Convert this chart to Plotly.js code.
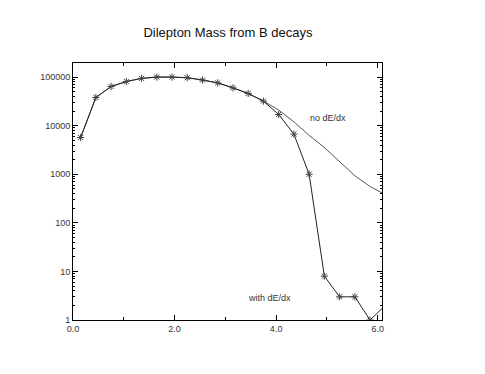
<!DOCTYPE html>
<html>
<head>
<meta charset="utf-8">
<script src="https://cdn.plot.ly/plotly-3.0.1.min.js"></script>
<style>
  html, body { margin: 0; padding: 0; background: #fff; }
  #chart { width: 485px; height: 374px; }
</style>
</head>
<body>
<div id="chart"></div>
<script>
// dilepton mass bins (GeV)
const masa = [0.15, 0.45, 0.75, 1.05, 1.35, 1.65, 1.95, 2.25, 2.55, 2.85, 3.15,
              3.45, 3.75, 4.05, 4.35, 4.65, 4.95, 5.25, 5.55, 5.85, 6.15];

// con perdida de energia (asteriscos)
const withDEdx = [5700, 38000, 64000, 81000, 94000, 100000, 100000, 97000, 87000, 76000, 60000,
                  46000, 32000, 17000, 6700, 1000, 8, 3, 3, 1, 2];

// sin perdida de energia (linea fina)
const noDEdx = [5700, 38000, 64000, 81000, 94000, 100000, 100000, 97000, 87000, 76000, 60000,
                46000, 32000, 21000, 12000, 6300, 3550, 1780, 930, 560, 380];

const xTicks = [0, 2, 4, 6];
const xTickText = ["0.0", "2.0", "4.0", "6.0"];

const fuente = "Liberation Sans, Arial, sans-serif";

const traces = [
  {
    type: "scatter", mode: "lines",
    x: masa, y: noDEdx,
    line: { color: "#555", width: 1 },
    showlegend: false,
    hoverinfo: "skip",
  },
  {
    type: "scatter", mode: "lines+markers",
    x: masa, y: withDEdx,
    line: { color: "#222", width: 1 },
    marker: { symbol: "asterisk-open", size: 6, color: "#444", line: { color: "#444", width: 1 } },
    showlegend: false,
  },
];

const layout = {
  width: 485, height: 374,
  paper_bgcolor: "#fff", plot_bgcolor: "#fff",
  margin: { l: 73, r: 103, t: 63, b: 54 },
  font: { family: fuente, size: 9, color: "#333" },
  title: {
    text: "Dilepton Mass from B decays",
    font: { family: fuente, size: 13, color: "#111" },
    x: 0.47, xanchor: "center", y: 0.912, yanchor: "middle",
  },
  xaxis: {
    range: [0, 6.085],
    tickvals: xTicks, ticktext: xTickText,
    ticks: "inside", ticklen: 5, tickcolor: "#000",
    minor: { dtick: 1, tick0: 0, ticks: "inside", ticklen: 3, tickcolor: "#000" },
    showline: true, linecolor: "#000", linewidth: 1, mirror: "ticks",
    showgrid: false, zeroline: false,
  },
  yaxis: {
    type: "log",
    range: [0, 5.29],
    dtick: 1, tickformat: "d",
    ticks: "inside", ticklen: 5, tickcolor: "#000",
    minor: { dtick: "D1", ticks: "inside", ticklen: 2, tickcolor: "#000" },
    showline: true, linecolor: "#000", linewidth: 1, mirror: "ticks",
    showgrid: false, zeroline: false,
  },
  annotations: [
    { x: 5.02, y: 4.16, xref: "x", yref: "y", text: "no dE/dx", showarrow: false,
      font: { family: fuente, size: 9, color: "#333" } },
    { x: 3.86, y: 0.45, xref: "x", yref: "y", text: "with dE/dx", showarrow: false,
      font: { family: fuente, size: 9, color: "#333" } },
  ],
};

Plotly.newPlot("chart", traces, layout, { displayModeBar: false, staticPlot: true });
</script>
</body>
</html>
